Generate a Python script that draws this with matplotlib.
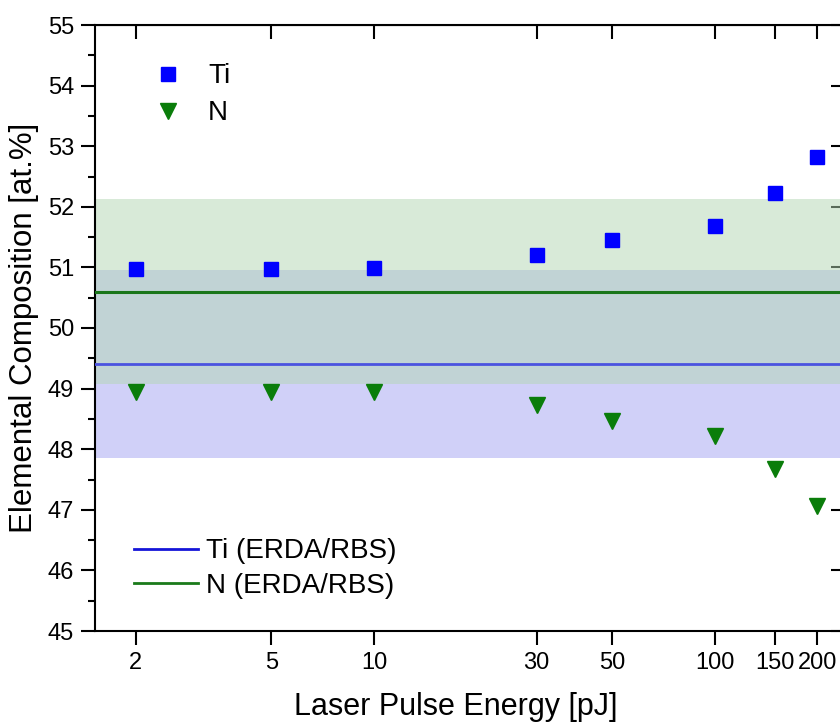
import numpy as np
import matplotlib
matplotlib.use('Agg')
import matplotlib.pyplot as plt
from matplotlib.lines import Line2D
from matplotlib.ticker import FixedLocator, NullLocator, FixedFormatter, MultipleLocator

plt.rcParams['font.family'] = ['Liberation Sans', 'DejaVu Sans']

# Messwerte aus dem Bild
energy = [2, 5, 10, 30, 50, 100, 150, 200]
ti_comp = [50.98, 50.97, 50.99, 51.20, 51.45, 51.69, 52.22, 52.83]
n_comp = [48.95, 48.95, 48.94, 48.73, 48.47, 48.22, 47.67, 47.07]

# Referenz ERDA/RBS (Mittelwert, Unsicherheit)
ti_ref, ti_err = 49.40, 1.55
n_ref, n_err = 50.60, 1.53

xticks = [2, 5, 10, 30, 50, 100, 150, 200]
xticklabels = ['2', '5', '10', '30', '50', '100', '150', '200']

fig = plt.figure(figsize=(8.4, 7.23), dpi=100)
ax = fig.add_axes([95/840, 92/723, 750/840, 606/723])

ax.axhspan(ti_ref - ti_err, ti_ref + ti_err, color='#d0d0f8', lw=0, zorder=1)
ax.axhspan(n_ref - n_err, n_ref + n_err, color='#b3d7b3', alpha=0.5, lw=0, zorder=2)
ax.axhline(ti_ref, color='#4b52e0', lw=2, zorder=3)
ax.axhline(n_ref, color='#1a761a', lw=2.2, zorder=3)

p_ti, = ax.plot(energy, ti_comp, 's', color='#0000ff', ms=9.5, ls='none', zorder=5, label='Ti')
p_n, = ax.plot(energy, n_comp, 'v', color='#0a7d0a', ms=12, ls='none', zorder=5, label='N')

ax.set_xscale('log')
ax.set_xlim(1.52, 241)
ax.set_ylim(45, 55)
ax.xaxis.set_major_locator(FixedLocator(xticks))
ax.xaxis.set_major_formatter(FixedFormatter(xticklabels))
ax.xaxis.set_minor_locator(NullLocator())
ax.yaxis.set_major_locator(MultipleLocator(1))
ax.yaxis.set_minor_locator(MultipleLocator(0.5))

ax.tick_params(axis='both', which='major', direction='out', length=10, width=1.5,
               labelsize=17, pad=5)
ax.tick_params(axis='y', which='minor', direction='out', length=5, width=1.5)
for s in ax.spines.values():
    s.set_linewidth(1.5)

top = ax.secondary_xaxis('top')
top.set_xscale('log')
top.xaxis.set_major_locator(FixedLocator(xticks))
top.xaxis.set_minor_locator(NullLocator())
top.tick_params(direction='in', length=10, width=1.5, labeltop=False)
right = ax.secondary_yaxis('right')
right.yaxis.set_major_locator(MultipleLocator(1))
right.yaxis.set_minor_locator(NullLocator())
right.tick_params(direction='in', length=10, width=1.5, labelright=False)

ax.set_xlabel('Laser Pulse Energy [pJ]', fontsize=22)
ax.xaxis.set_label_coords(0.481, -0.1)
ax.set_ylabel('Elemental Composition [at.%]', fontsize=22.5, labelpad=6)

leg1 = ax.legend(handles=[p_ti, p_n], loc='upper left', bbox_to_anchor=(0.046, 0.955),
                 frameon=False, fontsize=20, handletextpad=0.43, labelspacing=0.4,
                 borderaxespad=0)
ax.add_artist(leg1)
h_ti = Line2D([], [], color='#1515d8', lw=2, label='Ti (ERDA/RBS)')
h_n = Line2D([], [], color='#1a7a1a', lw=2, label='N (ERDA/RBS)')
ax.legend(handles=[h_ti, h_n], loc='lower left', bbox_to_anchor=(0.037, 0.035),
          frameon=False, fontsize=20, handlelength=2.3, handletextpad=0.29,
          labelspacing=0.3, borderaxespad=0)

fig.savefig('out.png', dpi=100)
